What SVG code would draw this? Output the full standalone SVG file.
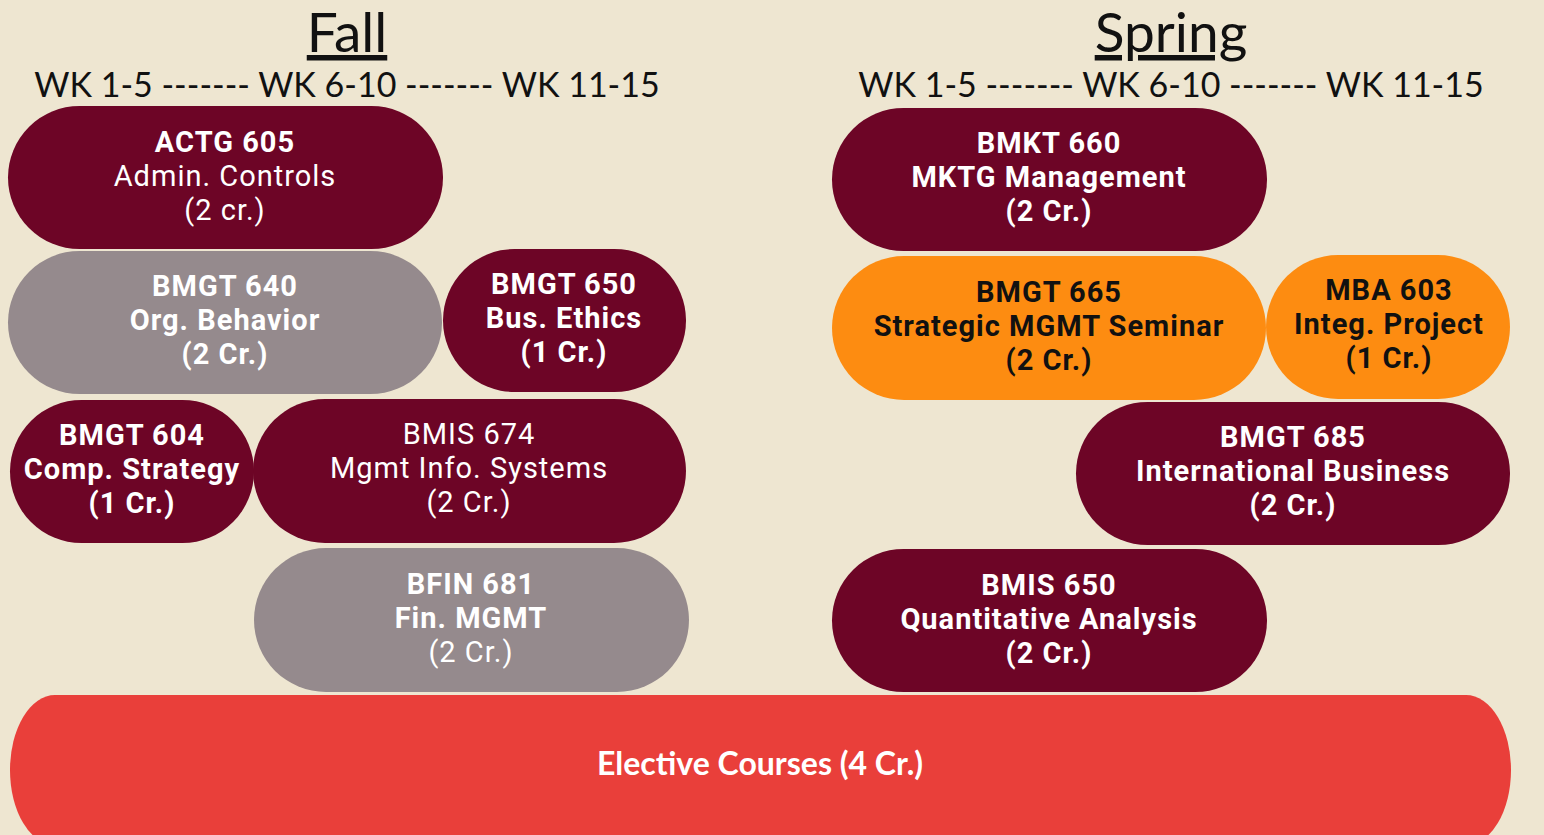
<svg xmlns="http://www.w3.org/2000/svg" width="1544" height="835" viewBox="0 0 1544 835">
<style>
text{font-family:Lato,"Open Sans","Liberation Sans",sans-serif;text-anchor:middle}
.h{font-size:55px;fill:#111;text-decoration:underline}
.wk{font-size:34px;fill:#111}
.t{font-family:Roboto,"Liberation Sans",sans-serif;font-size:29px;fill:#fff;letter-spacing:1px}
.b{font-weight:bold}
.k{fill:#111}
.e{font-family:Lato,"Open Sans",sans-serif;font-size:32px;font-weight:bold;fill:#fff}
.m{fill:#6d0526}
.g{fill:#958a8d}
.o{fill:#fd8c11}
.r{fill:#e93f3a}
</style>
<rect width="1544" height="835" fill="#eee6d1"/>
<g id="headings">
<text class="h" x="347" y="52">Fall</text>
<text class="h" x="1171" y="52">Spring</text>
<text class="wk" x="347" y="97">WK 1-5 ------- WK 6-10 ------- WK 11-15</text>
<text class="wk" x="1171" y="97">WK 1-5 ------- WK 6-10 ------- WK 11-15</text>
</g>
<g id="actg605">
<rect class="m" x="8" y="106" width="435" height="143" rx="71.5"/>
<text class="t b" x="225" y="152">ACTG 605</text>
<text class="t" x="225" y="186">Admin. Controls</text>
<text class="t" x="225" y="220">(2 cr.)</text>
</g>
<g id="bmgt640">
<rect class="g" x="8" y="251" width="434" height="143" rx="71.5"/>
<text class="t b" x="225" y="296">BMGT 640</text>
<text class="t b" x="225" y="330">Org. Behavior</text>
<text class="t b" x="225" y="364">(2 Cr.)</text>
</g>
<g id="bmgt650">
<rect class="m" x="443" y="249" width="243" height="143" rx="71.5"/>
<text class="t b" x="564" y="294">BMGT 650</text>
<text class="t b" x="564" y="328">Bus. Ethics</text>
<text class="t b" x="564" y="362">(1 Cr.)</text>
</g>
<g id="bmgt604">
<rect class="m" x="10" y="400" width="244" height="143" rx="71.5"/>
<text class="t b" x="132" y="445">BMGT 604</text>
<text class="t b" x="132" y="479">Comp. Strategy</text>
<text class="t b" x="132" y="513">(1 Cr.)</text>
</g>
<g id="bmis674">
<rect class="m" x="253" y="399" width="433" height="144" rx="72"/>
<text class="t" x="469" y="444">BMIS 674</text>
<text class="t" x="469" y="478">Mgmt Info. Systems</text>
<text class="t" x="469" y="512">(2 Cr.)</text>
</g>
<g id="bfin681">
<rect class="g" x="254" y="548" width="435" height="144" rx="72"/>
<text class="t b" x="471" y="594">BFIN 681</text>
<text class="t b" x="471" y="628">Fin. MGMT</text>
<text class="t" x="471" y="662">(2 Cr.)</text>
</g>
<g id="bmkt660">
<rect class="m" x="832" y="108" width="435" height="143" rx="71.5"/>
<text class="t b" x="1049" y="153">BMKT 660</text>
<text class="t b" x="1049" y="187">MKTG Management</text>
<text class="t b" x="1049" y="221">(2 Cr.)</text>
</g>
<g id="bmgt665">
<rect class="o" x="832" y="256" width="434" height="144" rx="72"/>
<text class="t b k" x="1049" y="302">BMGT 665</text>
<text class="t b k" x="1049" y="336">Strategic MGMT Seminar</text>
<text class="t b k" x="1049" y="370">(2 Cr.)</text>
</g>
<g id="mba603">
<rect class="o" x="1266" y="255" width="244" height="144" rx="72"/>
<text class="t b k" x="1389" y="300">MBA 603</text>
<text class="t b k" x="1389" y="334">Integ. Project</text>
<text class="t b k" x="1389" y="368">(1 Cr.)</text>
</g>
<g id="bmgt685">
<rect class="m" x="1076" y="402" width="434" height="143" rx="71.5"/>
<text class="t b" x="1293" y="447">BMGT 685</text>
<text class="t b" x="1293" y="481">International Business</text>
<text class="t b" x="1293" y="515">(2 Cr.)</text>
</g>
<g id="bmis650">
<rect class="m" x="832" y="549" width="435" height="143" rx="71.5"/>
<text class="t b" x="1049" y="595">BMIS 650</text>
<text class="t b" x="1049" y="629">Quantitative Analysis</text>
<text class="t b" x="1049" y="663">(2 Cr.)</text>
</g>
<g id="electives">
<rect class="r" x="10" y="695" width="1501" height="150" rx="45" ry="75"/>
<text class="e" x="760" y="775">Elective Courses (4 Cr.)</text>
</g>
<g id="connectors"/>
</svg>
